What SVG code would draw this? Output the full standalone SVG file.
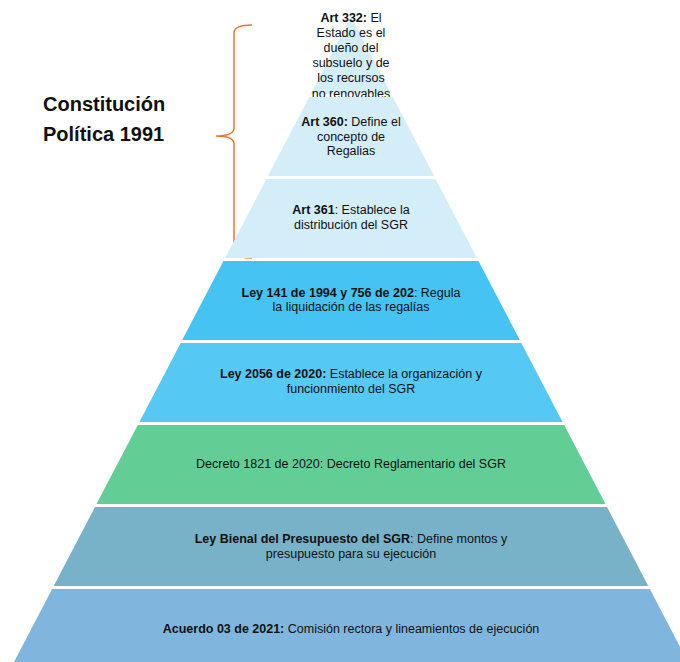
<svg xmlns="http://www.w3.org/2000/svg" width="680" height="662" viewBox="0 0 680 662">
<style>
.t{font-family:"Liberation Sans",Arial,sans-serif;font-size:12.5px;fill:#111;text-anchor:middle}
.b{font-weight:bold}
.lbl{font-family:"Liberation Sans",Arial,sans-serif;font-size:20px;font-weight:bold;fill:#111}
.brace{fill:none;stroke:#ee7132;stroke-width:1.5}
</style>
<rect width="680" height="662" fill="#ffffff"/>
<g id="label">
<text class="lbl" x="43" y="111">Constitución</text>
<text class="lbl" x="43" y="141">Política 1991</text>
</g>
<g id="connectors">
<path class="brace" d="M252,25 Q234,25 234,33 L234,128 Q234,136 216,136 Q234,136 234,144 L234,250 Q234,258 252,258"/>
</g>
<g id="layer1">
<polygon points="351,17 391.2,94 310.8,94" fill="#d3edf9"/>
<text class="t" x="351" y="22"><tspan class="b">Art 332:</tspan> El</text>
<text class="t" x="351" y="37">Estado es el</text>
<text class="t" x="351" y="52">dueño del</text>
<text class="t" x="351" y="67">subsuelo y de</text>
<text class="t" x="351" y="82">los recursos</text>
<text class="t" x="351" y="97.5">no renovables</text>
</g>
<g id="layer2">
<polygon points="309.2,97 392.8,97 434.1,176 267.9,176" fill="#d3edf9"/>
<text class="t" x="351" y="126"><tspan class="b">Art 360:</tspan> Define el</text>
<text class="t" x="351" y="141">concepto de</text>
<text class="t" x="351" y="155">Regalias</text>
</g>
<g id="layer3">
<polygon points="266.4,179 435.6,179 476.9,258 225.1,258" fill="#d3edf9"/>
<text class="t" x="351" y="214"><tspan class="b">Art 361</tspan>: Establece la</text>
<text class="t" x="351" y="229">distribución del SGR</text>
</g>
<g id="layer4">
<polygon points="223.5,261 478.5,261 519.8,340 182.2,340" fill="#45c3f2"/>
<text class="t" x="351" y="297"><tspan class="b">Ley 141 de 1994 y 756 de 202</tspan>: Regula</text>
<text class="t" x="351" y="311">la liquidación de las regalías</text>
</g>
<g id="layer5">
<polygon points="180.7,343 521.3,343 562.6,422 139.4,422" fill="#55c9f4"/>
<text class="t" x="351" y="378"><tspan class="b">Ley 2056 de 2020:</tspan> Establece la organización y</text>
<text class="t" x="351" y="393">funcionmiento del SGR</text>
</g>
<g id="layer6">
<polygon points="137.8,425 564.2,425 605.5,504 96.5,504" fill="#62cd94"/>
<text class="t" x="351" y="468">Decreto 1821 de 2020: Decreto Reglamentario del SGR</text>
</g>
<g id="layer7">
<polygon points="95,507 607,507 648.3,586 53.7,586" fill="#78b2c8"/>
<text class="t" x="351" y="543"><tspan class="b">Ley Bienal del Presupuesto del SGR</tspan>: Define montos y</text>
<text class="t" x="351" y="558">presupuesto para su ejecución</text>
</g>
<g id="layer8">
<polygon points="52.1,589 649.9,589 691.1,668 10.9,668" fill="#80b6dd"/>
<text class="t" x="351" y="633"><tspan class="b">Acuerdo 03 de 2021:</tspan> Comisión rectora y lineamientos de ejecución</text>
</g>
</svg>
